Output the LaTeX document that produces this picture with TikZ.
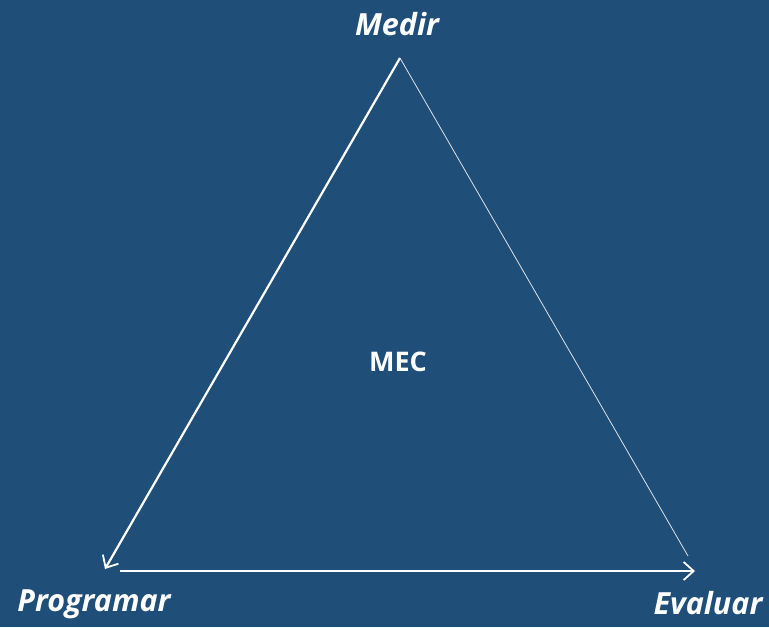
\documentclass[tikz,border=0pt]{standalone}
\usepackage{fontspec}
\setmainfont{Open Sans}
\usetikzlibrary{arrows.meta}
\definecolor{bg}{HTML}{1F4E79}
\begin{document}
\begin{tikzpicture}[x=1pt,y=-1pt,
  lbl/.style={text=white,font=\fontsize{30.5}{34}\selectfont\bfseries\itshape,inner sep=0pt},
  ctr/.style={text=white,font=\fontsize{27}{30}\selectfont\bfseries,inner sep=0pt},
  edge/.style={draw=white,line width=2.2pt},
  tip/.style={-{Straight Barb[length=10pt,width=18pt,line width=1.8pt]}}]
\fill[bg] (0,0) rectangle (769,627);
\useasboundingbox (0,0) rectangle (769,627);
\coordinate (top) at (400,58);
\coordinate (bl) at (105,569);
\coordinate (bs) at (120,571);
\coordinate (be) at (695,571);
\coordinate (br) at (688,556);
\node[lbl] (medir) at (397,24) {Medir};
\node[lbl] (prog) at (94,604) {Programar};
\node[lbl] (eval) at (708,603) {Evaluar};
\node[ctr] (mec) at (398,362) {MEC};
\draw[edge,tip] (top) -- (bl);
\draw[edge,tip] (bs) -- (be);
\draw[draw=white!85!bg,line width=0.8pt] (top) -- (br);
\end{tikzpicture}
\end{document}
